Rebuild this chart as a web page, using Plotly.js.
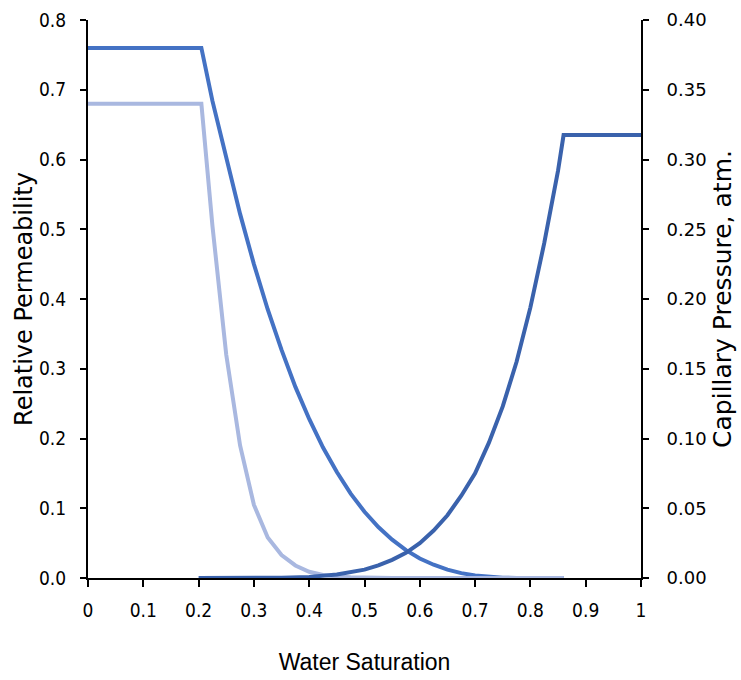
<!DOCTYPE html>
<html>
<head>
<meta charset="utf-8">
<script src="https://cdn.plot.ly/plotly-3.0.1.min.js"></script>
<style>html,body{margin:0;padding:0;background:#fff;}#chart{width:741px;height:680px;}</style>
</head>
<body>
<div id="chart"></div>
<script>
// Relative permeability curve 1 (medium blue, left axis)
const swKr1 = [0, 0.205, 0.225, 0.25, 0.275, 0.3, 0.325, 0.35, 0.375, 0.4, 0.425, 0.45, 0.475, 0.5, 0.525, 0.55, 0.575, 0.6, 0.625, 0.65, 0.675, 0.7, 0.725, 0.75, 0.775, 0.8, 0.86];
const kr1   = [0.76, 0.76, 0.684, 0.600, 0.522, 0.450, 0.385, 0.327, 0.274, 0.228, 0.187, 0.152, 0.121, 0.095, 0.073, 0.055, 0.040, 0.028, 0.019, 0.012, 0.007, 0.0036, 0.0015, 0.0005, 0.0001, 0, 0];
// Relative permeability curve 2 (light blue, left axis)
const swKr2 = [0, 0.205, 0.225, 0.25, 0.275, 0.3, 0.325, 0.35, 0.375, 0.4, 0.425, 0.45, 0.475, 0.5, 0.55, 0.6, 0.86];
const kr2   = [0.68, 0.68, 0.505, 0.32, 0.19, 0.105, 0.058, 0.033, 0.018, 0.009, 0.0045, 0.002, 0.001, 0.0004, 0.0001, 0, 0];
// Capillary pressure (dark blue, right axis, atm.)
const swPc = [0.2, 0.25, 0.3, 0.35, 0.4, 0.45, 0.5, 0.525, 0.55, 0.575, 0.6, 0.625, 0.65, 0.675, 0.7, 0.725, 0.75, 0.775, 0.8, 0.825, 0.85, 0.86, 1.0];
const pc   = [0, 0, 0.00003, 0.0002, 0.0008, 0.0025, 0.006, 0.009, 0.013, 0.018, 0.025, 0.034, 0.045, 0.059, 0.075, 0.097, 0.123, 0.155, 0.194, 0.240, 0.292, 0.3175, 0.3175];

const xTicks = [0, 0.1, 0.2, 0.3, 0.4, 0.5, 0.6, 0.7, 0.8, 0.9, 1];
const xTickText = ['0', '0.1', '0.2', '0.3', '0.4', '0.5', '0.6', '0.7', '0.8', '0.9', '1'];

const narrow = 'Liberation Sans Narrow, DejaVu Sans Condensed, Arial, sans-serif';
const wide = 'DejaVu Sans, Verdana, sans-serif';
const sans = 'Liberation Sans, Arial, sans-serif';

const traces = [
  {x: swKr1, y: kr1, type: 'scatter', mode: 'lines', line: {color: '#4472C4', width: 4}, xaxis: 'x', yaxis: 'y', name: 'kr1'},
  {x: swPc, y: pc, type: 'scatter', mode: 'lines', line: {color: '#3A62AC', width: 4}, xaxis: 'x', yaxis: 'y2', name: 'Pc'},
  {x: swKr2, y: kr2, type: 'scatter', mode: 'lines', line: {color: '#A9B8E0', width: 4}, xaxis: 'x', yaxis: 'y', name: 'kr2'}
];

const layout = {
  width: 741, height: 680,
  margin: {l: 88, r: 100, t: 20, b: 102},
  paper_bgcolor: '#ffffff', plot_bgcolor: '#ffffff',
  showlegend: false,
  xaxis: {
    range: [0, 1], tickmode: 'array', tickvals: xTicks, ticktext: xTickText,
    showgrid: false, zeroline: false, showline: true, linecolor: '#000', linewidth: 2,
    ticks: 'outside', ticklen: 7, tickwidth: 2, tickcolor: '#000',
    ticklabelstandoff: 7,
    tickfont: {family: narrow, size: 19, color: '#000'},
    title: {text: 'Water Saturation', font: {family: sans, size: 23, color: '#000'}, standoff: 34}
  },
  yaxis: {
    range: [0, 0.8], dtick: 0.1, tickformat: '.1f',
    showgrid: false, zeroline: false, showline: true, linecolor: '#000', linewidth: 2,
    ticks: 'outside', ticklen: 6, tickwidth: 2, tickcolor: '#000',
    ticklabelstandoff: 10,
    tickfont: {family: narrow, size: 19, color: '#000'},
    title: {text: 'Relative Permeability', font: {family: wide, size: 24, color: '#000'}, standoff: 0}
  },
  yaxis3: {
    range: [0, 0.8], dtick: 0.1, overlaying: 'y', side: 'left',
    showgrid: false, zeroline: false, showline: false, showticklabels: false,
    ticks: 'inside', ticklen: 7, tickwidth: 2, tickcolor: '#000'
  },
  yaxis2: {
    range: [0, 0.4], dtick: 0.05, tickformat: '.2f', overlaying: 'y', side: 'right',
    showgrid: false, zeroline: false, showline: true, linecolor: '#000', linewidth: 2,
    ticks: 'outside', ticklen: 6, tickwidth: 2, tickcolor: '#000',
    ticklabelstandoff: 14,
    tickfont: {family: wide, size: 18, color: '#000'},
    title: {text: 'Capillary Pressure, atm.', font: {family: wide, size: 25, color: '#000'}, standoff: 8}
  },
  yaxis4: {
    range: [0, 0.4], dtick: 0.05, overlaying: 'y', side: 'right',
    showgrid: false, zeroline: false, showline: false, showticklabels: false,
    ticks: 'inside', ticklen: 6, tickwidth: 2, tickcolor: '#000'
  }
};

Plotly.newPlot('chart', traces, layout, {displayModeBar: false, staticPlot: true});
</script>
</body>
</html>
